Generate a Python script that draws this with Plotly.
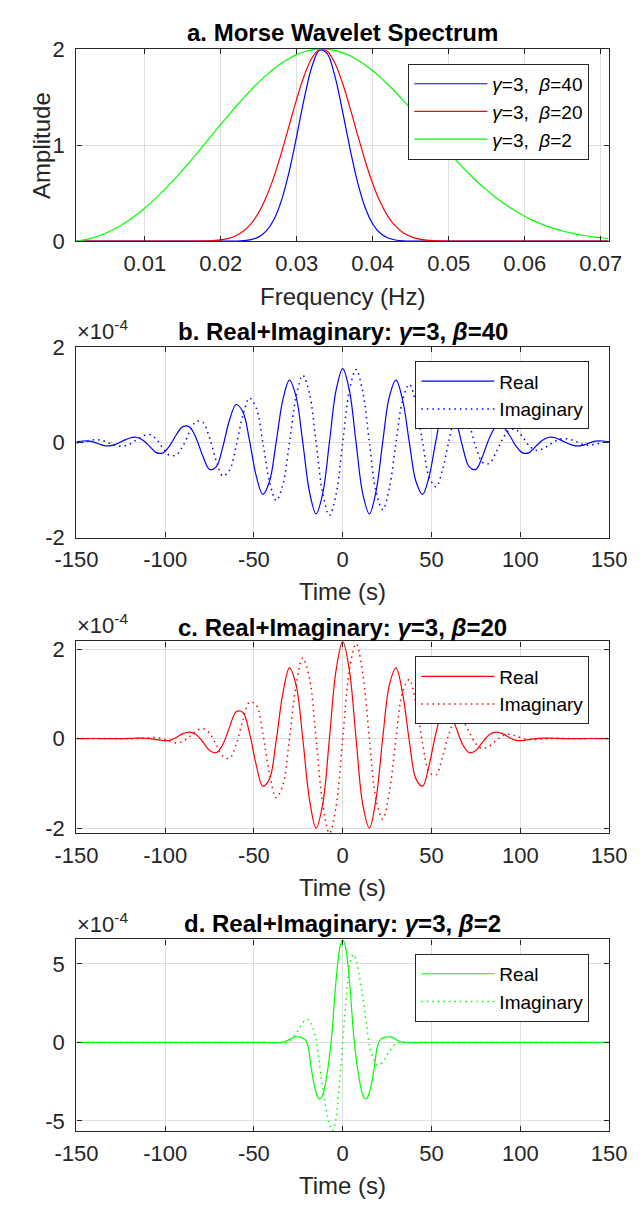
import plotly.graph_objects as go

# ---------------- data ----------------
freq_hz = [0.001, 0.002, 0.003, 0.004, 0.005, 0.006, 0.007, 0.008, 0.009, 0.010,
           0.011, 0.012, 0.013, 0.014, 0.015, 0.016, 0.017, 0.018, 0.019, 0.020,
           0.021, 0.022, 0.023, 0.024, 0.025, 0.026, 0.027, 0.028, 0.029, 0.030,
           0.031, 0.032, 0.033, 0.034, 0.035, 0.036, 0.037, 0.038, 0.039, 0.040,
           0.041, 0.042, 0.043, 0.044, 0.045, 0.046, 0.047, 0.048, 0.049, 0.050,
           0.051, 0.052, 0.053, 0.054, 0.055, 0.056, 0.057, 0.058, 0.059, 0.060,
           0.061, 0.062, 0.063, 0.064, 0.065, 0.066, 0.067, 0.068, 0.069, 0.070,
           0.071]

spec_beta40 = [0, 0, 0, 0, 0, 0, 0, 0, 0, 0,
               0, 0, 0, 0, 0, 0, 0, 0, 0, 0.0001,
               0.0004, 0.0016, 0.0055, 0.0167, 0.0448, 0.1065, 0.2257, 0.4273, 0.7231, 1.0964,
               1.4902, 1.8166, 1.9876, 1.9519, 1.7213, 1.3614, 0.9662, 0.6149, 0.3505, 0.1789,
               0.0817, 0.0333, 0.0122, 0.0039, 0.0011, 0.0003, 0.0001, 0, 0, 0,
               0, 0, 0, 0, 0, 0, 0, 0, 0, 0,
               0, 0, 0, 0, 0, 0, 0, 0, 0, 0,
               0]

spec_beta20 = [0, 0, 0, 0, 0, 0, 0, 0, 0, 0,
               0, 0, 0, 0, 0.0001, 0.0003, 0.0009, 0.0024, 0.0060, 0.0136,
               0.0288, 0.0569, 0.1053, 0.1829, 0.2993, 0.4616, 0.6719, 0.9244, 1.2026, 1.4808,
               1.7264, 1.9061, 1.9938, 1.9758, 1.8554, 1.6501, 1.3901, 1.1090, 0.8372, 0.5982,
               0.4042, 0.2582, 0.1559, 0.0888, 0.0478, 0.0243, 0.0116, 0.0052, 0.0022, 0.0009,
               0.0003, 0.0001, 0, 0, 0, 0, 0, 0, 0, 0,
               0, 0, 0, 0, 0, 0, 0, 0, 0, 0,
               0]

spec_beta2 = [0.0035, 0.0140, 0.0315, 0.0560, 0.0875, 0.1257, 0.1707, 0.2223, 0.2803, 0.3444,
              0.4142, 0.4894, 0.5695, 0.6541, 0.7423, 0.8337, 0.9275, 1.0228, 1.1187, 1.2144,
              1.3087, 1.4009, 1.4899, 1.5745, 1.6541, 1.7273, 1.7934, 1.8514, 1.9009, 1.9408,
              1.9708, 1.9903, 1.9994, 1.9976, 1.9849, 1.9619, 1.9285, 1.8855, 1.8332, 1.7726,
              1.7044, 1.6298, 1.5496, 1.4650, 1.3767, 1.2866, 1.1949, 1.1036, 1.0126, 0.9239,
              0.8376, 0.7544, 0.6755, 0.6005, 0.5309, 0.4657, 0.4065, 0.3518, 0.3026, 0.2586,
              0.2194, 0.1847, 0.1545, 0.1282, 0.1056, 0.0864, 0.0701, 0.0565, 0.0451, 0.0358,
              0.0281]

time_s = [-150, -146.25, -142.5, -138.75, -135, -131.25, -127.5, -123.75, -120, -116.25,
          -112.5, -108.75, -105, -101.25, -97.5, -93.75, -90, -86.25, -82.5, -78.75,
          -75, -71.25, -67.5, -63.75, -60, -56.25, -52.5, -48.75, -45, -41.25,
          -37.5, -33.75, -30, -26.25, -22.5, -18.75, -15, -11.25, -7.5, -3.75,
          0,
          3.75, 7.5, 11.25, 15, 18.75, 22.5, 26.25, 30, 33.75, 37.5,
          41.25, 45, 48.75, 52.5, 56.25, 60, 63.75, 67.5, 71.25, 75,
          78.75, 82.5, 86.25, 90, 93.75, 97.5, 101.25, 105, 108.75, 112.5,
          116.25, 120, 123.75, 127.5, 131.25, 135, 138.75, 142.5, 146.25, 150]

# values in units of 1e-4
real_beta40 = [0.015, 0.030, 0.026, -0.012, -0.062, -0.072, -0.032, 0.032, 0.094, 0.109,
               0.048, -0.082, -0.214, -0.219, -0.070, 0.161, 0.333, 0.325, 0.084, -0.291,
               -0.567, -0.514, -0.089, 0.472, 0.797, 0.645, 0.039, -0.699, -1.090, -0.820,
               0.0, 0.891, 1.310, 0.962, 0.0, -1.032, -1.500, -1.071, 0.0, 1.092,
               1.550,
               1.092, 0.0, -1.071, -1.500, -1.032, 0.0, 0.962, 1.310, 0.891, 0.0,
               -0.820, -1.090, -0.699, 0.039, 0.645, 0.797, 0.472, -0.089, -0.514, -0.567,
               -0.291, 0.084, 0.325, 0.333, 0.161, -0.070, -0.219, -0.214, -0.082, 0.048,
               0.109, 0.094, 0.032, -0.032, -0.072, -0.062, -0.012, 0.026, 0.030, 0.015]

imag_beta40 = [-0.013, 0.003, 0.036, 0.059, 0.037, -0.021, -0.068, -0.079, -0.035, 0.051,
               0.137, 0.166, 0.070, -0.120, -0.271, -0.259, -0.071, 0.216, 0.442, 0.419,
               0.096, -0.382, -0.704, -0.583, -0.067, 0.569, 0.929, 0.729, 0.0, -0.820,
               -1.220, -0.891, 0.0, 0.962, 1.410, 1.032, 0.0, -1.071, -1.530, -1.092,
               0.0,
               1.092, 1.530, 1.071, 0.0, -1.032, -1.410, -0.962, 0.0, 0.891, 1.220,
               0.820, 0.0, -0.729, -0.929, -0.569, 0.067, 0.583, 0.704, 0.382, -0.096,
               -0.419, -0.442, -0.216, 0.071, 0.259, 0.271, 0.120, -0.070, -0.166, -0.137,
               -0.051, 0.035, 0.079, 0.068, 0.021, -0.037, -0.059, -0.036, -0.003, 0.013]

real_beta20 = [0.0, 0.0, 0.001, 0.001, 0.0, -0.002, -0.003, 0.0, 0.004, 0.010,
               0.010, 0.0, -0.022, -0.045, -0.040, 0.024, 0.110, 0.143, 0.084, -0.080,
               -0.265, -0.315, -0.127, 0.255, 0.597, 0.583, 0.120, -0.582, -1.064, -0.901,
               -0.055, 1.004, 1.580, 1.195, 0.0, -1.354, -2.000, -1.464, 0.0, 1.524,
               2.170,
               1.524, 0.0, -1.464, -2.000, -1.354, 0.0, 1.195, 1.580, 1.004, -0.055,
               -0.901, -1.064, -0.582, 0.120, 0.583, 0.597, 0.255, -0.127, -0.315, -0.265,
               -0.080, 0.084, 0.143, 0.110, 0.024, -0.040, -0.045, -0.022, 0.0, 0.010,
               0.010, 0.004, 0.0, -0.003, -0.002, 0.0, 0.001, 0.001, 0.0, 0.0]

imag_beta20 = [0.0, 0.0, 0.0, 0.001, 0.002, 0.002, -0.001, -0.004, -0.006, -0.001,
               0.008, 0.020, 0.020, -0.005, -0.057, -0.097, -0.060, 0.045, 0.170, 0.221,
               0.118, -0.140, -0.390, -0.442, -0.127, 0.405, 0.811, 0.751, 0.112, -0.778,
               -1.319, -1.047, 0.0, 1.195, 1.800, 1.354, 0.0, -1.464, -2.120, -1.524,
               0.0,
               1.524, 2.120, 1.464, 0.0, -1.354, -1.800, -1.195, 0.0, 1.047, 1.319,
               0.778, -0.112, -0.751, -0.811, -0.405, 0.127, 0.442, 0.390, 0.140, -0.118,
               -0.221, -0.170, -0.045, 0.060, 0.097, 0.057, 0.005, -0.020, -0.020, -0.008,
               0.001, 0.006, 0.004, 0.001, -0.002, -0.002, -0.001, 0.0, 0.0, 0.0]

time_s_beta2 = [-150, -100, -60,
                -45, -43.5, -42, -40.5, -39, -37.5, -36, -34.5, -33, -31.5,
                -30, -28.5, -27, -25.5, -24, -22.5, -21, -19.5, -18, -16.5,
                -15, -13.5, -12, -10.5, -9, -7.5, -6, -4.5, -3, -1.5,
                0,
                1.5, 3, 4.5, 6, 7.5, 9, 10.5, 12, 13.5, 15,
                16.5, 18, 19.5, 21, 22.5, 24, 25.5, 27, 28.5, 30,
                31.5, 33, 34.5, 36, 37.5, 39, 40.5, 42, 43.5, 45,
                60, 100, 150]

real_beta2 = [0, 0, 0,
              0, -0.005, -0.01, -0.015, -0.02, -0.02, -0.01, 0.01, 0.04, 0.10,
              0.19, 0.29, 0.35, 0.36, 0.33, 0.27, 0.15, -0.25, -1.45, -2.45,
              -3.19, -3.58, -3.53, -3.03, -2.13, -0.95, 0.64, 2.94, 4.85, 6.11,
              6.55,
              6.11, 4.85, 2.94, 0.64, -0.95, -2.13, -3.03, -3.53, -3.58, -3.19,
              -2.45, -1.45, -0.25, 0.15, 0.27, 0.33, 0.36, 0.35, 0.29, 0.19,
              0.10, 0.04, 0.01, -0.01, -0.02, -0.02, -0.015, -0.01, -0.005, 0,
              0, 0, 0]

imag_beta2 = [0, 0, 0,
              0, 0, 0, 0, 0, -0.005, -0.01, -0.015, -0.01, 0.01,
              0.06, 0.22, 0.45, 0.70, 0.98, 1.25, 1.42, 1.45, 1.25, 0.79,
              0.18, -1.00, -2.35, -3.45, -4.45, -5.25, -5.62, -5.26, -4.07, -2.21,
              0,
              2.21, 4.07, 5.26, 5.60, 5.25, 4.45, 3.45, 2.35, 1.00, -0.18,
              -0.79, -1.25, -1.45, -1.42, -1.25, -0.98, -0.70, -0.45, -0.22, -0.06,
              -0.01, 0.01, 0.015, 0.01, 0.005, 0, 0, 0, 0, 0,
              0, 0, 0]

freq_ticks = [0.01, 0.02, 0.03, 0.04, 0.05, 0.06, 0.07]
freq_ticktext = ["0.01", "0.02", "0.03", "0.04", "0.05", "0.06", "0.07"]
time_ticks = [-150, -100, -50, 0, 50, 100, 150]
time_ticktext = ["-150", "-100", "-50", "0", "50", "100", "150"]

BLUE, RED, GREEN = "#0000FF", "#FF0000", "#00FF00"
INK = "#262626"
FONT = "Liberation Sans, Arial, Helvetica, sans-serif"
DOT = "1.5px,4px"

fig = go.Figure()

# panel a
fig.add_trace(go.Scatter(x=freq_hz, y=spec_beta40, mode="lines", line=dict(color=BLUE, width=1.2, shape="spline"),
                         name="<i>γ</i>=3,  <i>β</i>=40", xaxis="x", yaxis="y", legend="legend"))
fig.add_trace(go.Scatter(x=freq_hz, y=spec_beta20, mode="lines", line=dict(color=RED, width=1.2, shape="spline"),
                         name="<i>γ</i>=3,  <i>β</i>=20", xaxis="x", yaxis="y", legend="legend"))
fig.add_trace(go.Scatter(x=freq_hz, y=spec_beta2, mode="lines", line=dict(color=GREEN, width=1.2, shape="spline"),
                         name="<i>γ</i>=3,  <i>β</i>=2", xaxis="x", yaxis="y", legend="legend"))

panels = [
    (time_s, real_beta40, imag_beta40, BLUE, "2"),
    (time_s, real_beta20, imag_beta20, RED, "3"),
    (time_s_beta2, real_beta2, imag_beta2, GREEN, "4"),
]
for t, re_, im_, col, k in panels:
    fig.add_trace(go.Scatter(x=t, y=re_, mode="lines", line=dict(color=col, width=1.2, shape="spline"),
                             name="Real", xaxis="x" + k, yaxis="y" + k, legend="legend" + k))
    fig.add_trace(go.Scatter(x=t, y=im_, mode="lines", line=dict(color=col, width=1.5, dash=DOT, shape="spline"),
                             name="Imaginary", xaxis="x" + k, yaxis="y" + k, legend="legend" + k))

W, H = 643, 1213
x_dom = [58 / W, 626 / W]
boxes = {  # top, bottom in px
    "": (37.7, 234.0),
    "2": (342.3, 536.7),
    "3": (642.7, 838.7),
    "4": (947.0, 1142.7),
}

def ydom(k):
    top, bot = boxes[k]
    return [1 - bot / H, 1 - top / H]

axis_common = dict(showline=True, linecolor=INK, linewidth=1.3, mirror="ticks", ticks="inside",
                   ticklen=5, tickwidth=1.2, tickcolor=INK, showgrid=True, gridcolor="#dfdfdf",
                   gridwidth=1, zeroline=False, tickfont=dict(family=FONT, size=22, color=INK))

layout = dict(
    width=W, height=H, margin=dict(l=0, r=0, t=0, b=0),
    paper_bgcolor="white", plot_bgcolor="white",
    font=dict(family=FONT, size=22, color=INK),
    showlegend=True,
)
layout["xaxis"] = dict(axis_common, domain=x_dom, anchor="y", range=[0.001, 0.0711],
                       tickmode="array", tickvals=freq_ticks, ticktext=freq_ticktext,
                       ticklabelstandoff=2)
layout["yaxis"] = dict(axis_common, domain=ydom(""), anchor="x", range=[0, 2],
                       tickmode="array", tickvals=[0, 1, 2], ticktext=["0", "1", "2"],
                       ticklabelstandoff=6)
yranges = {"2": [-2, 2], "3": [-2.12, 2.17], "4": [-5.65, 6.55]}
yticks = {"2": [-2, 0, 2], "3": [-2, 0, 2], "4": [-5, 0, 5]}
for k in ["2", "3", "4"]:
    layout["xaxis" + k] = dict(axis_common, domain=x_dom, anchor="y" + k, range=[-150, 150],
                               tickmode="array", tickvals=time_ticks, ticktext=time_ticktext,
                               ticklabelstandoff=2)
    layout["yaxis" + k] = dict(axis_common, domain=ydom(k), anchor="x" + k, range=yranges[k],
                               tickmode="array", tickvals=yticks[k],
                               ticktext=[str(v) for v in yticks[k]], ticklabelstandoff=6)

legend_common = dict(xanchor="right", yanchor="top", bgcolor="white", bordercolor=INK, borderwidth=1,
                     font=dict(family=FONT, size=19, color="#000000"), itemwidth=73, tracegroupgap=0)
layout["legend"] = dict(legend_common, x=605 / W, y=1 - 53 / H)
layout["legend2"] = dict(legend_common, x=605 / W, y=1 - 356.7 / H)
layout["legend3"] = dict(legend_common, x=605 / W, y=1 - 658 / H)
layout["legend4"] = dict(legend_common, x=605 / W, y=1 - 961.7 / H)

cx = (x_dom[0] + x_dom[1]) / 2
ann = []
titles = [
    ("<b>a. Morse Wavelet Spectrum</b>", 21),
    ("<b>b. Real+Imaginary: <i>γ</i>=3, <i>β</i>=40</b>", 326),
    ("<b>c. Real+Imaginary: <i>γ</i>=3, <i>β</i>=20</b>", 628),
    ("<b>d. Real+Imaginary: <i>γ</i>=3, <i>β</i>=2</b>", 931),
]
for txt, yc in titles:
    ann.append(dict(text=txt, x=cx, y=1 - yc / H, xref="paper", yref="paper", xanchor="center",
                    yanchor="middle", showarrow=False, font=dict(family=FONT, size=24, color="#000000")))
xlabels = [("Frequency (Hz)", 290), ("Time (s)", 592), ("Time (s)", 894), ("Time (s)", 1198)]
for txt, yc in xlabels:
    ann.append(dict(text=txt, x=cx, y=1 - yc / H, xref="paper", yref="paper", xanchor="center",
                    yanchor="middle", showarrow=False, font=dict(family=FONT, size=24, color=INK)))
ann.append(dict(text="Amplitude", x=20 / W, y=1 - 136 / H, xref="paper", yref="paper", textangle=-90,
                xanchor="center", yanchor="middle", showarrow=False,
                font=dict(family=FONT, size=24, color=INK)))
for k in ["2", "3", "4"]:
    top, _ = boxes[k]
    ann.append(dict(text="×10<sup>-4</sup>", x=57 / W, y=1 - (top - 1) / H, xref="paper", yref="paper",
                    xanchor="left", yanchor="bottom", showarrow=False,
                    font=dict(family=FONT, size=22, color=INK)))
layout["annotations"] = ann

fig.update_layout(**layout)
fig.write_html("out.html")
